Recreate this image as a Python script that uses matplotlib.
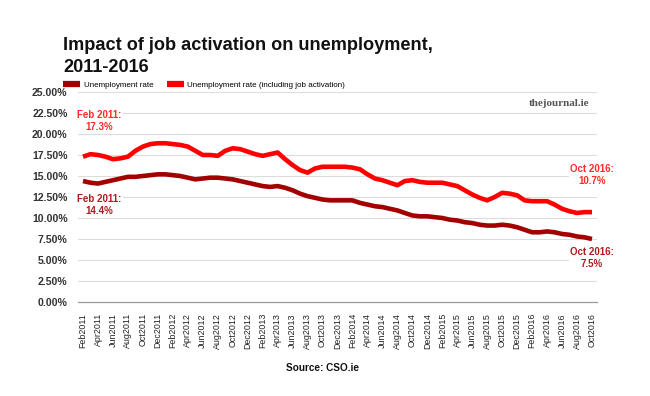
import matplotlib
matplotlib.use("Agg")
import matplotlib.pyplot as plt
from matplotlib.lines import Line2D
import numpy as np
import pandas as pd

months = pd.date_range("2011-02-01", "2016-10-01", freq="MS")
month_labels = [d.strftime("%b%Y") for d in months]

unemployment = [14.4, 14.2, 14.1, 14.3, 14.5, 14.7, 14.9, 14.9, 15.0, 15.1, 15.2, 15.2,
                15.1, 15.0, 14.8, 14.6, 14.7, 14.8, 14.8, 14.7, 14.6, 14.4, 14.2, 14.0,
                13.8, 13.7, 13.8, 13.6, 13.3, 12.9, 12.6, 12.4, 12.2, 12.1, 12.1, 12.1,
                12.1, 11.8, 11.6, 11.4, 11.3, 11.1, 10.9, 10.6, 10.3, 10.2, 10.2, 10.1,
                10.0, 9.8, 9.7, 9.5, 9.4, 9.2, 9.1, 9.1, 9.2, 9.1, 8.9, 8.6,
                8.3, 8.3, 8.4, 8.3, 8.1, 8.0, 7.8, 7.7, 7.5]
incl_activation = [17.3, 17.6, 17.5, 17.3, 17.0, 17.1, 17.3, 18.0, 18.5, 18.8, 18.9, 18.9,
                   18.8, 18.7, 18.5, 18.0, 17.5, 17.5, 17.4, 18.0, 18.3, 18.2, 17.9, 17.6,
                   17.4, 17.6, 17.8, 17.0, 16.3, 15.7, 15.4, 15.9, 16.1, 16.1, 16.1, 16.1,
                   16.0, 15.8, 15.2, 14.7, 14.5, 14.2, 13.9, 14.4, 14.5, 14.3, 14.2, 14.2,
                   14.2, 14.0, 13.8, 13.3, 12.8, 12.4, 12.1, 12.5, 13.0, 12.9, 12.7, 12.1,
                   12.0, 12.0, 12.0, 11.6, 11.1, 10.8, 10.6, 10.7, 10.7]

series_names = ["Unemployment rate", "Unemployment rate (including job activation)"]
y_ticks = np.arange(0, 25.01, 2.5)

DARK = "#a30000"
BRIGHT = "#ff0000"
FONT = "Liberation Sans"

plt.rcParams["font.family"] = [FONT, "DejaVu Sans"]

fig = plt.figure(figsize=(6.5, 3.96), dpi=100)
ax = fig.add_axes([78/650, 1-302/396, (597-78)/650, (302-92)/396])

x = np.arange(len(months))
ax.plot(x, unemployment, color=DARK, lw=3.3, solid_capstyle="butt", zorder=3)
ax.plot(x, incl_activation, color=BRIGHT, lw=3.3, solid_capstyle="butt", zorder=3)

ax.set_xlim(-0.67, len(months) - 1 + 0.67)
ax.set_ylim(0, 25)
ax.set_yticks(y_ticks)
ax.set_yticklabels([f"{v:.2f}%" for v in y_ticks], fontsize=7.6, fontweight="bold", color="#333333")
ax.set_xticks(x[::2])
ax.set_xticklabels(month_labels[::2], rotation=90, fontsize=6.4, color="#222222")
ax.tick_params(axis="both", length=0)
ax.tick_params(axis="y", pad=7.5)
ax.tick_params(axis="x", pad=8)
for v in y_ticks[1:]:
    ax.axhline(v, color="#dcdcdc", lw=0.8, zorder=1)
for s in ["top", "right", "left"]:
    ax.spines[s].set_visible(False)
ax.spines["bottom"].set_color("#999999")
ax.spines["bottom"].set_linewidth(0.9)

ann_kw = dict(xycoords="data", textcoords="offset points", ha="center", va="center",
              fontsize=7, fontweight="bold", linespacing=1.25, zorder=5,
              bbox=dict(facecolor="white", edgecolor="none", pad=1.0))
ax.annotate(f"Feb 2011:\n{incl_activation[0]}%", xy=(x[0], incl_activation[0]),
            xytext=(12, 26), color="#ff2a2a", **ann_kw)
ax.annotate(f"Feb 2011:\n{unemployment[0]}%", xy=(x[0], unemployment[0]),
            xytext=(11.5, -17), color="#b01a1e", **ann_kw)
ax.annotate(f"Oct 2016:\n{incl_activation[-1]}%", xy=(x[-1], incl_activation[-1]),
            xytext=(0, 26.5), color="#ff2a2a", annotation_clip=False, **ann_kw)
ax.annotate(f"Oct 2016:\n{unemployment[-1]}%", xy=(x[-1], unemployment[-1]),
            xytext=(0, -13.5), color="#b01a1e", annotation_clip=False, **ann_kw)

fig.text(63/650, 1-50/396, "Impact of job activation on unemployment,",
         fontsize=13.1, fontweight="bold", ha="left", va="baseline", color="#111111")
fig.text(63/650, 1-72/396, "2011-2016",
         fontsize=13.1, fontweight="bold", ha="left", va="baseline", color="#111111")

handles = [Line2D([0], [0], color=DARK, lw=4.5, solid_capstyle="butt"),
           Line2D([0], [0], color=BRIGHT, lw=4.5, solid_capstyle="butt")]
fig.legend(handles, series_names, loc="center left", bbox_to_anchor=(63/650, 1-85/396),
           ncol=2, frameon=False, fontsize=5.8, handlelength=2.1, handletextpad=0.45,
           columnspacing=1.7, borderpad=0, borderaxespad=0)

fig.text(589/650, 1-104/396, "thejournal.ie", fontsize=8, fontweight="bold",
         family=["Liberation Serif", "DejaVu Serif"], color="#555555", ha="right", va="center")
fig.text(322/650, 1-368/396, "Source: CSO.ie", fontsize=7.2, fontweight="bold",
         ha="center", va="center", color="#111111")

fig.savefig("out.png", dpi=100, facecolor="white")
